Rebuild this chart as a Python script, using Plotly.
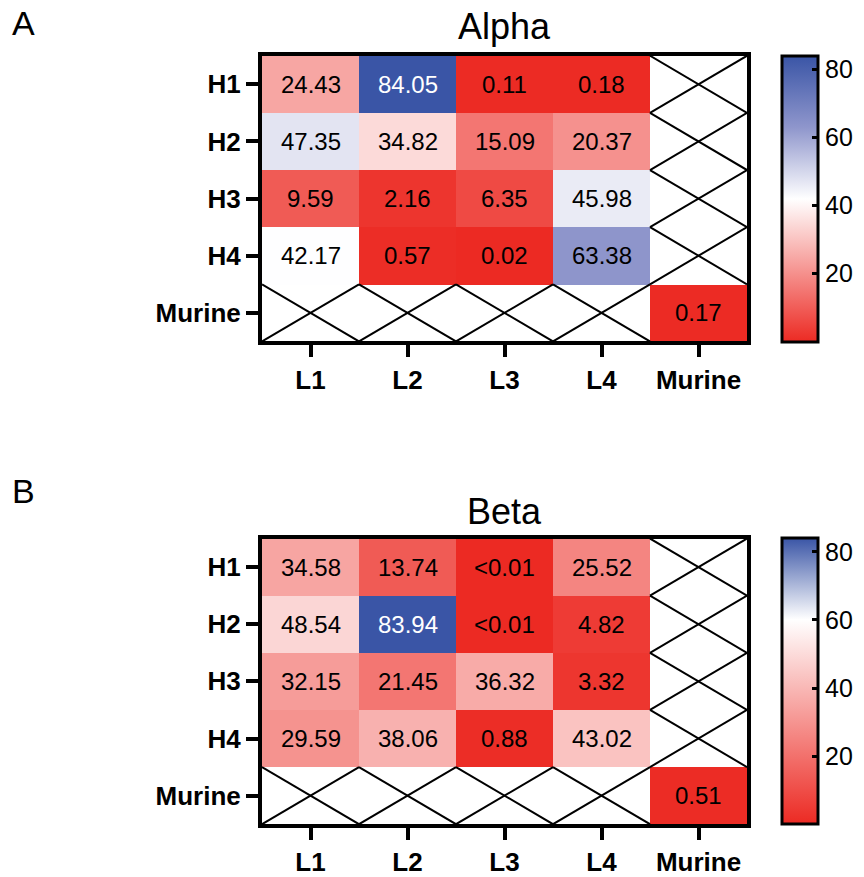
import plotly.graph_objects as go

cols = ["L1", "L2", "L3", "L4", "Murine"]
rows = ["H1", "H2", "H3", "H4", "Murine"]

alpha_vals = [
    [24.43, 84.05, 0.11, 0.18, None],
    [47.35, 34.82, 15.09, 20.37, None],
    [9.59, 2.16, 6.35, 45.98, None],
    [42.17, 0.57, 0.02, 63.38, None],
    [None, None, None, None, 0.17],
]
alpha_text = [
    ["24.43", "84.05", "0.11", "0.18", ""],
    ["47.35", "34.82", "15.09", "20.37", ""],
    ["9.59", "2.16", "6.35", "45.98", ""],
    ["42.17", "0.57", "0.02", "63.38", ""],
    ["", "", "", "", "0.17"],
]
beta_vals = [
    [34.58, 13.74, 0.005, 25.52, None],
    [48.54, 83.94, 0.005, 4.82, None],
    [32.15, 21.45, 36.32, 3.32, None],
    [29.59, 38.06, 0.88, 43.02, None],
    [None, None, None, None, 0.51],
]
beta_text = [
    ["34.58", "13.74", "<0.01", "25.52", ""],
    ["48.54", "83.94", "<0.01", "4.82", ""],
    ["32.15", "21.45", "36.32", "3.32", ""],
    ["29.59", "38.06", "0.88", "43.02", ""],
    ["", "", "", "", "0.51"],
]
cbar_ticks = [20, 40, 60, 80]

RED = "#EC2A23"
BLUE = "#3A55A6"
FONT = "Liberation Sans, Arial, sans-serif"

W, H = 864, 877
px_x0, px_x1 = 262, 747
panels = [
    dict(name="Alpha", letter="A", vals=alpha_vals, text=alpha_text, top=56, bot=343,
         title_y=27, letter_y=23,
         scale=[[0, RED], [0.5, "#FFFFFF"], [0.75, "#8F96CC"], [1, BLUE]], cmin=0, cmax=84.05),
    dict(name="Beta", letter="B", vals=beta_vals, text=beta_text, top=541, bot=828,
         title_y=514, letter_y=493,
         scale=[[0, RED], [60 / 83.94, "#FFFFFF"], [1, BLUE]], cmin=0, cmax=83.94),
]

fig = go.Figure()
annotations = []
for k, p in enumerate(panels):
    xa = "x" if k == 0 else "x2"
    ya = "y" if k == 0 else "y2"
    ycen = 1 - (p["top"] + p["bot"]) / 2 / H
    fig.add_trace(go.Heatmap(
        z=p["vals"], x=list(range(len(cols))), y=list(range(len(rows))),
        colorscale=p["scale"], zmin=p["cmin"], zmax=p["cmax"],
        xaxis=xa, yaxis=ya, hoverongaps=False,
        colorbar=dict(
            x=782 / W, xanchor="left", xpad=0, ypad=0,
            y=ycen, yanchor="middle", len=(p["bot"] - p["top"]) / H, lenmode="fraction",
            thickness=36, outlinewidth=3, outlinecolor="black",
            ticks="inside", ticklen=7, tickwidth=3, tickcolor="black",
            tickvals=cbar_ticks, tickfont=dict(family=FONT, size=25, color="black"),
        ),
    ))
    xs, ys = [], []
    for i, r in enumerate(p["vals"]):
        for j, v in enumerate(r):
            if v is None:
                xs += [j - 0.5, j + 0.5, None, j - 0.5, j + 0.5, None]
                ys += [i - 0.5, i + 0.5, None, i + 0.5, i - 0.5, None]
                continue
            annotations.append(dict(
                x=j, y=i, xref=xa, yref=ya, text=p["text"][i][j], showarrow=False,
                font=dict(family=FONT, size=24, color="white" if v > 75 else "black"),
            ))
    fig.add_trace(go.Scatter(x=xs, y=ys, mode="lines", xaxis=xa, yaxis=ya,
                             line=dict(color="black", width=2), hoverinfo="skip",
                             showlegend=False))
    annotations.append(dict(x=(px_x0 + px_x1) / 2 / W, y=1 - p["title_y"] / H,
                            xref="paper", yref="paper", yanchor="middle", text=p["name"],
                            showarrow=False,
                            font=dict(family=FONT, size=36, color="black")))
    annotations.append(dict(x=10 / W, y=1 - p["letter_y"] / H, xref="paper", yref="paper",
                            xanchor="left", yanchor="middle", text=p["letter"], showarrow=False,
                            font=dict(family=FONT, size=34, color="black")))

axis_common = dict(showline=True, mirror=True, linewidth=4, linecolor="black",
                   ticks="outside", ticklen=12, tickwidth=3.5, tickcolor="black",
                   showgrid=False, zeroline=False,
                   tickfont=dict(family=FONT, size=26, color="black", weight="bold"))

layout = dict(
    width=W, height=H, margin=dict(l=0, r=0, t=0, b=0),
    paper_bgcolor="white", plot_bgcolor="white", showlegend=False,
    annotations=annotations,
)
for k, p in enumerate(panels):
    sx = "xaxis" if k == 0 else "xaxis2"
    sy = "yaxis" if k == 0 else "yaxis2"
    ydom = [1 - p["bot"] / H, 1 - p["top"] / H]
    layout[sx] = dict(axis_common, domain=[px_x0 / W, px_x1 / W], range=[-0.5, 4.5],
                      tickvals=list(range(len(cols))), ticktext=cols,
                      anchor="y" if k == 0 else "y2")
    layout[sy] = dict(axis_common, domain=ydom, range=[4.5, -0.5],
                      tickvals=list(range(len(rows))), ticktext=rows,
                      anchor="x" if k == 0 else "x2")
fig.update_layout(**layout)
fig.write_html("out.html", config={"displayModeBar": False},
               post_script="document.body.style.margin='0';document.body.style.overflow='hidden';")
